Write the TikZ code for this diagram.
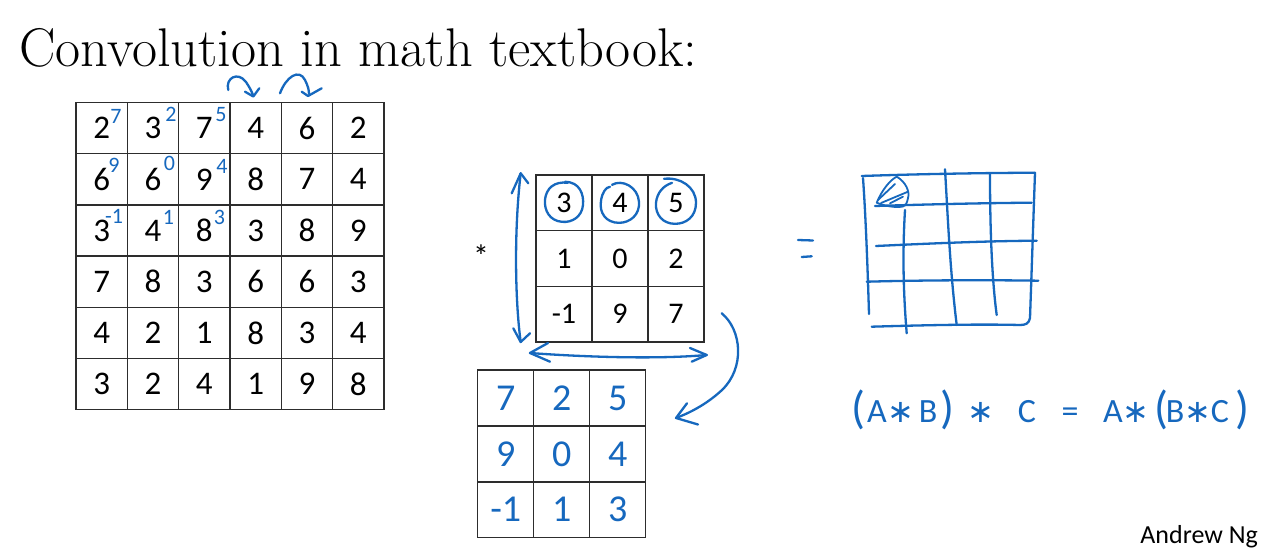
\documentclass[tikz,border=0pt]{standalone}
\usepackage{fontspec}
\newfontfamily\calib{Carlito}
\newfontfamily\djv{DejaVu Sans}
\definecolor{pen}{RGB}{22,104,190}
\definecolor{gridc}{RGB}{45,45,45}
\begin{document}
\begin{tikzpicture}[x=1pt,y=-1pt,
  cellA/.style={draw=gridc, line width=1.4pt, minimum width=51.33pt, minimum height=51.2pt, inner sep=0pt, font=\calib\fontsize{33}{33}\selectfont},
  cellF/.style={draw=gridc, line width=1.4pt, minimum width=56pt, minimum height=55.7pt, inner sep=0pt, font=\calib\fontsize{30}{30}\selectfont},
  cellR/.style={draw=gridc, line width=1.4pt, minimum width=56pt, minimum height=55.9pt, inner sep=0pt, text=pen, font=\calib\fontsize{38}{38}\selectfont},
  supnum/.style={inner sep=0pt, text=pen, font=\calib\fontsize{22}{22}\selectfont},
  eqtok/.style={inner sep=0pt, anchor=base, text=pen, font=\calib\fontsize{34}{34}\selectfont},
  eqpar/.style={inner sep=0pt, anchor=base, text=pen, font=\calib\fontsize{46}{46}\selectfont},
  eqast/.style={inner sep=0pt, anchor=base, text=pen, font=\djv\fontsize{32}{32}\selectfont},
  stroke/.style={draw=pen, line width=2.3pt, line cap=round, line join=round}
]
\useasboundingbox (0,0) rectangle (1270,553);
\fill[white] (0,0) rectangle (1270,553);

% title
\node[anchor=base west, inner sep=0pt, font=\fontsize{54.5}{60}\selectfont] (title) at (19,67) {Convolution in math textbook:};

% 6x6 input
\foreach \row [count=\r] in {{2,3,7,4,6,2},{6,6,9,8,7,4},{3,4,8,3,8,9},{7,8,3,6,6,3},{4,2,1,8,3,4},{3,2,4,1,9,8}} {
  \foreach \v [count=\c] in \row {
    \node[cellA] (a-\r-\c) at ({76+51.33*(\c-0.5)},{102.5+51.2*(\r-0.5)}) {\v};
  }
}

% blue superscripts (flipped filter)
\node[supnum] (s11) at (116,116) {7};
\node[supnum] (s12) at (171,114) {2};
\node[supnum] (s13) at (221,115) {5};
\node[supnum] (s21) at (114,165) {9};
\node[supnum] (s22) at (169.5,163) {0};
\node[supnum] (s23) at (222,166) {4};
\node[supnum] (s31) at (114,216) {-1};
\node[supnum] (s32) at (168.5,217.5) {1};
\node[supnum] (s33) at (219.5,217) {3};

% curly arrows above the input
\draw[stroke] (228.3,90) .. controls (225,78) and (238,71) .. (246,82) .. controls (250,88) and (252,92) .. (253.3,96);
\draw[stroke] (245,91.7) -- (253.3,96.5) -- (259.3,88.3);
\draw[stroke] (280,93.3) .. controls (286,77) and (299,68) .. (305,80) .. controls (308,86) and (309,90) .. (309,94);
\draw[stroke] (301.7,91.7) -- (308,96) -- (321.7,88.3);

% asterisk
\node[inner sep=0pt, anchor=base, font=\calib\fontsize{32}{32}\selectfont] (star) at (481,268) {*};

% 3x3 filter
\foreach \row [count=\r] in {{3,4,5},{1,0,2},{-1,9,7}} {
  \foreach \v [count=\c] in \row {
    \node[cellF] (f-\r-\c) at ({536+56*(\c-0.5)},{175+55.67*(\r-0.5)}) {\v};
  }
}
% circles on first row
\draw[stroke, shift={(f-1-1.center)}] (1,-21) .. controls (16,-21) and (20,-8) .. (19,2) .. controls (18,14) and (8,20) .. (-2,19) .. controls (-14,18) and (-20,8) .. (-19,-3) .. controls (-18,-14) and (-10,-22) .. (4,-20);
\draw[stroke, shift={(f-1-2.center)}] (-8,-18) .. controls (2,-24) and (18,-16) .. (19,-1) .. controls (20,12) and (10,20) .. (-1,20) .. controls (-14,20) and (-21,10) .. (-19,-2) .. controls (-18,-10) and (-14,-16) .. (-10,-16);
\draw[stroke, shift={(f-1-3.center)}] (-12,-24) .. controls (4,-26) and (20,-16) .. (20,0) .. controls (20,14) and (10,21) .. (-1,21) .. controls (-13,21) and (-21,12) .. (-20,0) .. controls (-19,-10) and (-13,-17) .. (-4,-20);

% vertical double arrow
\coordinate (vtop) at (520.7,173.3);
\coordinate (vbot) at (520.7,342);
\draw[stroke] (vtop) .. controls (514,230) and (515,300) .. (vbot);
\draw[stroke] (511.7,193.3) -- (vtop) -- (528.3,183.3);
\draw[stroke] (513.3,328.3) -- (vbot) -- (530,333.3);

% horizontal double arrow
\coordinate (hl) at (530,353);
\coordinate (hr) at (706.7,355);
\draw[stroke] (hl) .. controls (570,356) and (650,360) .. (hr);
\draw[stroke] (548,343) -- (hl) -- (550,361.7);
\draw[stroke] (690,348) -- (hr) -- (691.7,361.7);

% 3x3 flipped filter result
\foreach \row [count=\r] in {{7,2,5},{9,0,4},{-1,1,3}} {
  \foreach \v [count=\c] in \row {
    \node[cellR] (r-\r-\c) at ({477.7+56*(\c-0.5)},{370+55.9*(\r-0.5)}) {\v};
  }
}

% curved arrow filter -> flipped
\coordinate (cstart) at (721.7,313.3);
\coordinate (cend) at (676,418);
\draw[stroke] (cstart) .. controls (742,330) and (745,368) .. (722,390) .. controls (708,403) and (692,412) .. (cend);
\draw[stroke] (687,403.3) -- (cend) -- (698,424.5);

% equals
\draw[stroke] (798,240) -- (813,240.5);
\draw[stroke] (801.7,257) -- (811.7,256.3);

% hand drawn output grid
\draw[stroke] (861.7,176) .. controls (920,174) and (980,173) .. (1035,172.7);
\draw[stroke] (863,178) .. controls (866,220) and (868,280) .. (869,314);
\draw[stroke] (1035,172.7) .. controls (1033,230) and (1031,290) .. (1030,318) .. controls (1029,324) and (1025,325) .. (1020,325);
\draw[stroke] (871.7,326.7) .. controls (930,325) and (980,324) .. (1020,325);
\draw[stroke] (875,206) .. controls (940,204) and (990,203) .. (1031.7,202.7);
\draw[stroke] (876,246) .. controls (940,243) and (990,241) .. (1036.7,240.7);
\draw[stroke] (866.7,281.7) .. controls (930,280) and (990,280) .. (1038.3,280.7);
\draw[stroke] (905,210) .. controls (902,260) and (904,300) .. (906.7,333.3);
\draw[stroke] (945,169.3) .. controls (948,220) and (950,270) .. (956.7,325);
\draw[stroke] (990,174) .. controls (990,230) and (992,280) .. (996.7,315);
% shaded cell
\draw[stroke, line width=1.8pt] (876.7,202.7) .. controls (882,190) and (890,180) .. (896.7,176.7) .. controls (906,182) and (910,192) .. (908,198) .. controls (907,204) and (905,206) .. (903,206.5) .. controls (895,208) and (885,206) .. (876.7,202.7);
\draw[stroke, line width=1.8pt] (878,200) -- (895,184);
\draw[stroke, line width=1.8pt] (881,203) -- (908,191.7);
\draw[stroke, line width=1.8pt] (890,203.3) -- (903,196.7);

% associativity
\node[eqpar] (e1) at (858,424) {(};
\node[eqtok] (e2) at (877,423) {A};
\node[eqast] (e3) at (901,423) {∗};
\node[eqtok] (e4) at (928,423) {B};
\node[eqpar] (e5) at (947,424) {)};
\node[eqast] (e6) at (981,423) {∗};
\node[eqtok] (e7) at (1027,423) {C};
\node[eqtok] (e8) at (1070,423) {=};
\node[eqtok] (e9) at (1113,423) {A};
\node[eqast] (e10) at (1136,423) {∗};
\node[eqpar] (e11) at (1161,424) {(};
\node[eqtok] (e12) at (1175,423) {B};
\node[eqast] (e13) at (1198,423) {∗};
\node[eqtok] (e14) at (1220,423) {C};
\node[eqpar] (e15) at (1242,424) {)};

% author
\node[anchor=base east, inner sep=0pt, font=\calib\fontsize{26}{26}\selectfont] (author) at (1258,543) {Andrew Ng};
\end{tikzpicture}
\end{document}
